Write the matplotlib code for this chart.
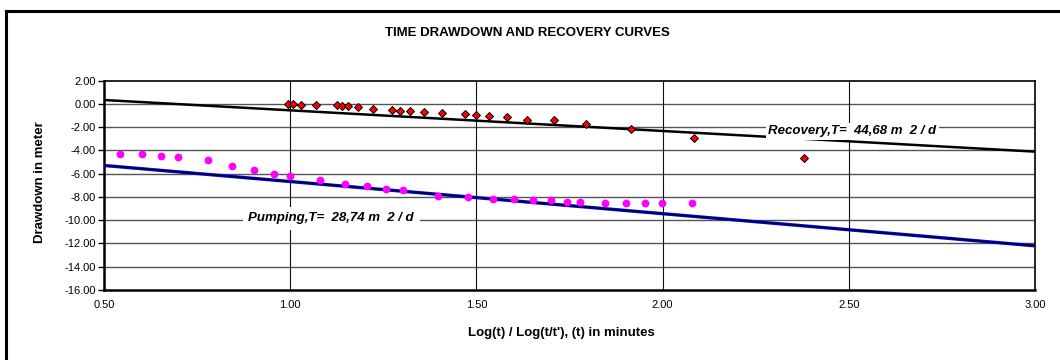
import matplotlib
matplotlib.use("Agg")
import matplotlib.pyplot as plt
from matplotlib.lines import Line2D

plt.rcParams['font.family'] = ['Liberation Sans', 'DejaVu Sans']

# Pumping data (log t, drawdown)
pump_x = [0.544, 0.603, 0.653, 0.699, 0.779, 0.844, 0.903, 0.956, 1.000, 1.079,
          1.147, 1.206, 1.257, 1.302, 1.397, 1.477, 1.545, 1.602, 1.652, 1.699,
          1.742, 1.779, 1.846, 1.903, 1.954, 1.999, 2.078]
pump_y = [-4.28, -4.28, -4.46, -4.57, -4.86, -5.37, -5.71, -6.03, -6.23, -6.51,
          -6.86, -7.03, -7.31, -7.43, -7.92, -8.00, -8.19, -8.17, -8.23, -8.28,
          -8.43, -8.43, -8.48, -8.48, -8.54, -8.54, -8.54]

# Recovery data (log t/t', residual drawdown)
rec_x = [0.993, 1.008, 1.029, 1.069, 1.125, 1.139, 1.156, 1.183, 1.222, 1.273,
         1.295, 1.322, 1.360, 1.408, 1.469, 1.499, 1.534, 1.582, 1.637, 1.708,
         1.795, 1.914, 2.084, 2.381]
rec_y = [-0.02, -0.04, -0.08, -0.07, -0.12, -0.20, -0.20, -0.30, -0.42, -0.49,
         -0.58, -0.64, -0.72, -0.80, -0.89, -0.94, -1.06, -1.11, -1.34, -1.40,
         -1.71, -2.14, -2.95, -4.69]

# Straight-line fits
fit_x = [0.5, 3.0]
pump_fit = [-5.29, -12.2]
rec_fit = [0.34, -4.10]

x_ticks = [0.5, 1.0, 1.5, 2.0, 2.5, 3.0]
y_ticks = [2, 0, -2, -4, -6, -8, -10, -12, -14, -16]

title = "TIME DRAWDOWN AND RECOVERY CURVES"
xlabel = "Log(t) / Log(t/t'), (t) in minutes"
ylabel = "Drawdown in meter"
pump_label = "Pumping,T=  28,74 m  2 / d"
rec_label = "Recovery,T=  44,68 m  2 / d"

W, H = 1060, 360
fig = plt.figure(figsize=(W / 100, H / 100), dpi=100)
fig.patch.set_facecolor('white')

ax = fig.add_axes([104 / W, 1 - 290 / H, (1035 - 104) / W, (290 - 80.7) / H])
ax.set_xlim(0.5, 3.0)
ax.set_ylim(-16, 2)

# grid
for yv in y_ticks[1:-1]:
    ax.axhline(yv, color='#555555', lw=1.0, zorder=1)
for xv in x_ticks[1:-1]:
    ax.axvline(xv, color='#111111', lw=0.8, zorder=1)

# fit lines
ax.plot(fit_x, rec_fit, color='black', lw=1.8, zorder=3, solid_capstyle='butt')
ax.plot(fit_x, pump_fit, color='#0000ee', lw=2.4, zorder=3, solid_capstyle='butt')
ax.plot(fit_x, pump_fit, color='black', lw=0.9, zorder=3.1, solid_capstyle='butt')

# points
ax.plot(pump_x, pump_y, 'o', color='#ff00ff', markersize=5.6, markeredgewidth=0,
        zorder=4, linestyle='none')
ax.plot(rec_x, rec_y, 'D', color='#ff0000', markeredgecolor='black',
        markeredgewidth=0.7, markersize=3.9, zorder=5, linestyle='none')

# labels on lines
ax.text(1.11, -9.83, pump_label, fontsize=9.5, fontweight='bold', style='italic',
        ha='center', va='center', zorder=6,
        bbox=dict(facecolor='white', edgecolor='none', pad=4))
ax.text(2.51, -2.35, rec_label, fontsize=9.5, fontweight='bold', style='italic',
        ha='center', va='center', zorder=6,
        bbox=dict(facecolor='white', edgecolor='none', pad=2))

ax.set_xticks(x_ticks)
ax.set_xticklabels([f"{v:.2f}" for v in x_ticks])
ax.set_yticks(y_ticks)
ax.set_yticklabels([f"{v:.2f}" for v in y_ticks])
ax.tick_params(axis='x', length=0, pad=7, labelsize=8)
ax.tick_params(axis='y', length=4, width=1, direction='out', pad=2, labelsize=8)

for side in ['left', 'bottom']:
    ax.spines[side].set_linewidth(1.8)
for side in ['top', 'right']:
    ax.spines[side].set_linewidth(1.2)

fig.text(527 / W, 1 - 33 / H, title, fontsize=9.5, fontweight='bold',
         ha='center', va='center')
fig.text(561 / W, 1 - 333 / H, xlabel, fontsize=9.5, fontweight='bold',
         ha='center', va='center')
fig.text(40 / W, 1 - 182 / H, ylabel, fontsize=9.5, fontweight='bold',
         ha='center', va='center', rotation=90)

# outer chart border (clipped on right and bottom)
fig.add_artist(Line2D([6 / W, 6 / W], [0, 1 - 11 / H], transform=fig.transFigure,
                      color='black', lw=2.2))
fig.add_artist(Line2D([6 / W, 1.0], [1 - 11 / H, 1 - 11 / H], transform=fig.transFigure,
                      color='black', lw=2.2))

fig.savefig("out.png", dpi=100, facecolor='white')
